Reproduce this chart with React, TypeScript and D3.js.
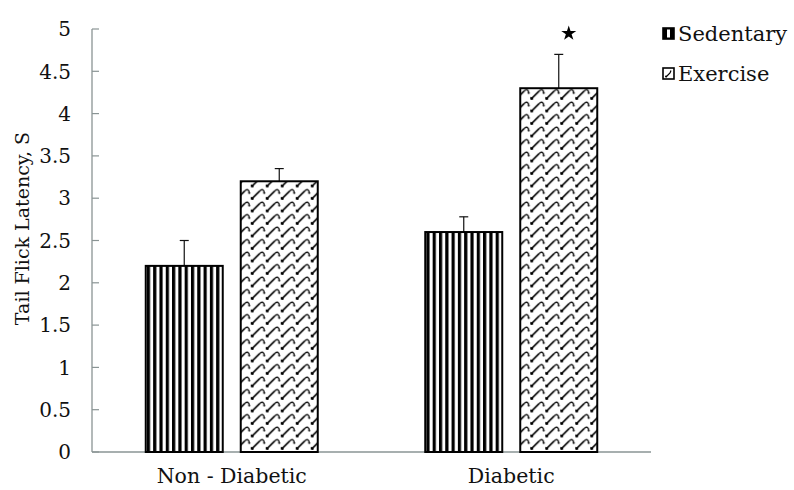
import React from "react";
import * as d3 from "d3";

const categories = ["Non - Diabetic", "Diabetic"];
const seriesNames = ["Sedentary", "Exercise"];
const sedentaryValues = [2.2, 2.6];
const sedentaryErrors = [0.3, 0.18];
const exerciseValues = [3.2, 4.3];
const exerciseErrors = [0.15, 0.4];
const yTickValues = [0, 0.5, 1, 1.5, 2, 2.5, 3, 3.5, 4, 4.5, 5];
const yTickLabels = ["0", "0.5", "1", "1.5", "2", "2.5", "3", "3.5", "4", "4.5", "5"];
const significant = [[false, false], [false, true]];
const yTitle = "Tail Flick Latency, S";

const W = 794;
const H = 490;
const FONT = "'DejaVu Serif', serif";

export default function App() {
  const x0 = d3.scaleBand<string>().domain(categories).range([92, 651]).paddingInner(0.3846).paddingOuter(0.1923);
  const x1 = d3.scaleBand<string>().domain(seriesNames).range([0, x0.bandwidth()]).paddingInner(0.1895).paddingOuter(0);
  const y = d3.scaleLinear().domain([0, 5]).range([452, 29]);
  const values = [sedentaryValues, exerciseValues];
  const errors = [sedentaryErrors, exerciseErrors];
  const fills = ["url(#stripes)", "url(#shingle)"];
  const star = d3.symbol().type(d3.symbolStar).size(70)() as string;

  return (
    <svg width={W} height={H} style={{ position: "absolute", left: 0, top: 0, background: "#fff" }} fontFamily={FONT}>
      <defs>
        <pattern id="stripes" patternUnits="userSpaceOnUse" width={6.3} height={10} x={146}>
          <rect width={6.3} height={10} fill="#fff" />
          <rect width={3.2} height={10} fill="#000" />
        </pattern>
        <pattern id="shingle" patternUnits="userSpaceOnUse" width={15} height={12.5}>
          <rect width={15} height={12.5} fill="#fff" />
          <path d="M1.5,11 L9,3.5" stroke="#000" strokeWidth={1.6} fill="none" />
          <path d="M9,3.5 C11,1.2 13.5,1.8 13.5,5.5" stroke="#000" strokeWidth={1.3} fill="none" />
          <path d="M-1.5,5.5 C-1.5,8.5 0,10.5 1.5,11" stroke="#000" strokeWidth={1.3} fill="none" />
          <circle cx={1.5} cy={11} r={1.5} fill="#000" />
          <circle cx={13.5} cy={5.5} r={1} fill="#000" />
          <circle cx={-1.5} cy={5.5} r={1} fill="#000" />
        </pattern>
      </defs>

      {/* axes */}
      <line x1={92} x2={92} y1={y(5)} y2={y(0)} stroke="#8a9494" strokeWidth={1.3} />
      <line x1={92} x2={651} y1={y(0)} y2={y(0)} stroke="#8a9494" strokeWidth={1.3} />
      {yTickValues.map((t, i) => (
        <g key={t}>
          <line x1={92} x2={99} y1={y(t)} y2={y(t)} stroke="#8a9494" strokeWidth={1.2} />
          <text x={71} y={y(t)} dy="0.36em" textAnchor="end" fontSize={20} fill="#111">
            {yTickLabels[i]}
          </text>
        </g>
      ))}
      <text transform={`translate(22,${(y(5) + y(0)) / 2 - 12}) rotate(-90)`} textAnchor="middle" dy="0.35em" fontSize={19} fill="#111">
        {yTitle}
      </text>

      {/* bars */}
      {categories.map((c, ci) => (
        <g key={c} transform={`translate(${x0(c)},0)`}>
          {seriesNames.map((s, si) => {
            const v = values[si][ci];
            const e = errors[si][ci];
            const bx = x1(s)!;
            const bw = x1.bandwidth();
            const cx = bx + bw / 2;
            return (
              <g key={s}>
                <line x1={cx} x2={cx} y1={y(v)} y2={y(v + e)} stroke="#111" strokeWidth={1.2} />
                <line x1={cx - 4.5} x2={cx + 4.5} y1={y(v + e)} y2={y(v + e)} stroke="#111" strokeWidth={1.2} />
                <rect x={bx} y={y(v)} width={bw} height={y(0) - y(v)} fill={fills[si]} stroke="#000" strokeWidth={2} />
                {significant[ci][si] && (
                  <path d={star} transform={`translate(${cx + 10},${y(v + e) - 21})`} fill="#000" />
                )}
              </g>
            );
          })}
          <text x={x0.bandwidth() / 2} y={476} dy="0.35em" textAnchor="middle" fontSize={20.5} fill="#111">
            {c}
          </text>
        </g>
      ))}

      {/* legend */}
      {seriesNames.map((s, i) => (
        <g key={s} transform={`translate(663,${28 + i * 40})`}>
          {i === 0 ? (
            <g>
              <rect width={11} height={11} fill="#000" stroke="#000" strokeWidth={1.6} />
              <rect x={4} y={1.5} width={3} height={8} fill="#fff" />
            </g>
          ) : (
            <g>
              <rect width={11} height={11} fill="#fff" stroke="#000" strokeWidth={1.6} />
              <path d="M3,9 L7,5 L8,2.5" stroke="#000" strokeWidth={1.2} fill="none" />
              <circle cx={3} cy={8.5} r={1} fill="#000" />
            </g>
          )}
          <text x={15} y={5.5} dy="0.36em" fontSize={21} fill="#111">
            {s}
          </text>
        </g>
      ))}
    </svg>
  );
}
